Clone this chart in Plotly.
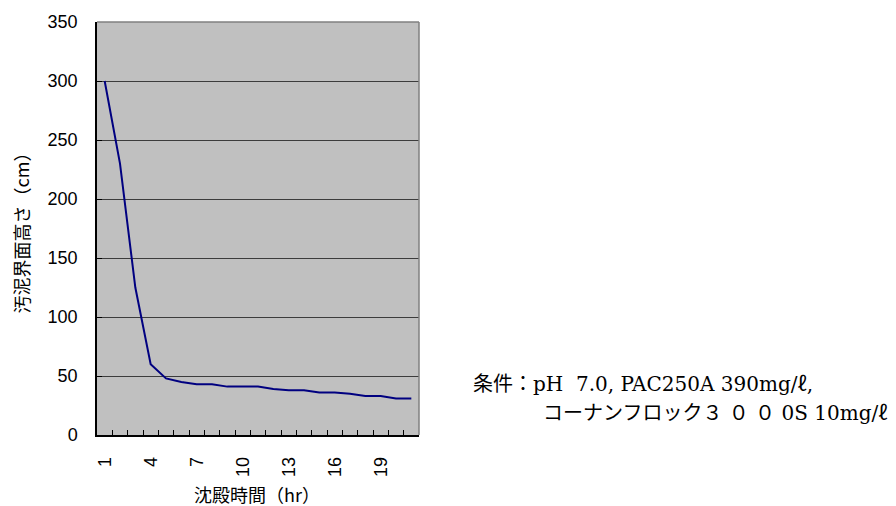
import plotly.graph_objects as go

hours = list(range(1, 22))
height_cm = [300, 230, 125, 60, 48, 45, 43, 43, 41, 41, 41, 39, 38, 38, 36, 36, 35, 33, 33, 31, 31]
x_tick_vals = [1, 4, 7, 10, 13, 16, 19]
y_tick_vals = [0, 50, 100, 150, 200, 250, 300, 350]
x_title = "沈殿時間（hr）"
y_title = "汚泥界面高さ（cm）"
note_line1 = "条件：pH  7.0, PAC250A 390mg/ℓ,"
note_line2 = "コーナンフロック３ ０ ０ 0S 10mg/ℓ"

OFF = 8  # page body margin
W, H = 896, 506
L, R, T, B = 97 - OFF, 419 - OFF, 22 - OFF, 435 - OFF

def px(x):
    return (x - OFF - L) / (R - L)

def py(y):
    return (B - (y - OFF)) / (B - T)

tick_font = dict(family="Liberation Sans, Arial, sans-serif", size=18, color="black")
jp_font = dict(family="Noto Sans CJK JP, sans-serif", size=18, color="black")
serif_font = dict(family="DejaVu Serif, Noto Sans CJK JP, serif", size=20, color="black")

fig = go.Figure()
fig.add_trace(go.Scatter(x=hours, y=height_cm, mode="lines",
                         line=dict(color="#000080", width=2), showlegend=False,
                         hoverinfo="skip"))
# empty trace so the boundary tick axis is drawn
fig.add_trace(go.Scatter(x=[], y=[], xaxis="x2", showlegend=False, hoverinfo="skip"))

boundaries = [i + 0.5 for i in range(0, len(hours) + 1)]

fig.update_layout(
    width=W, height=H,
    margin=dict(l=L, r=W - R, t=T, b=H - B, pad=0),
    paper_bgcolor="white",
    plot_bgcolor="#C0C0C0",
    xaxis=dict(
        range=[0.5, len(hours) + 0.5],
        tickmode="array", tickvals=x_tick_vals, ticktext=[str(v) for v in x_tick_vals],
        tickangle=-90, ticks="", tickfont=tick_font,
        showgrid=False, zeroline=False,
        showline=True, linecolor="black", linewidth=1.5,
        ticklabelstandoff=13,
    ),
    xaxis2=dict(
        overlaying="x", anchor="y", side="bottom",
        range=[0.5, len(hours) + 0.5],
        tickmode="array", tickvals=boundaries,
        ticks="inside", ticklen=5, tickcolor="black", tickwidth=1,
        showticklabels=False, showgrid=False, zeroline=False, showline=False,
    ),
    yaxis=dict(
        range=[0, 350],
        tickmode="array", tickvals=y_tick_vals,
        ticks="inside", ticklen=5, tickcolor="black", tickwidth=1,
        tickfont=tick_font,
        showgrid=True, gridcolor="#3c3c3c", gridwidth=1,
        zeroline=False,
        showline=True, linecolor="black", linewidth=1.5,
        ticklabelstandoff=14,
        title=dict(text=y_title, font=jp_font, standoff=20),
        automargin=False,
    ),
    shapes=[
        dict(type="line", xref="paper", yref="paper", x0=0, x1=1, y0=1, y1=1,
             line=dict(color="#808080", width=1.5)),
        dict(type="line", xref="paper", yref="paper", x0=1, x1=1, y0=0, y1=1,
             line=dict(color="#808080", width=1.5)),
    ],
    annotations=[
        dict(text=x_title, xref="paper", yref="paper", x=px(257), y=py(494),
             xanchor="center", yanchor="middle", showarrow=False, font=jp_font),
        dict(text=note_line1, xref="paper", yref="paper", x=px(471), y=py(384),
             xanchor="left", yanchor="middle", showarrow=False, font=serif_font),
        dict(text=note_line2, xref="paper", yref="paper", x=px(541), y=py(413),
             xanchor="left", yanchor="middle", showarrow=False, font=serif_font),
    ],
)

fig.write_html("out.html")
